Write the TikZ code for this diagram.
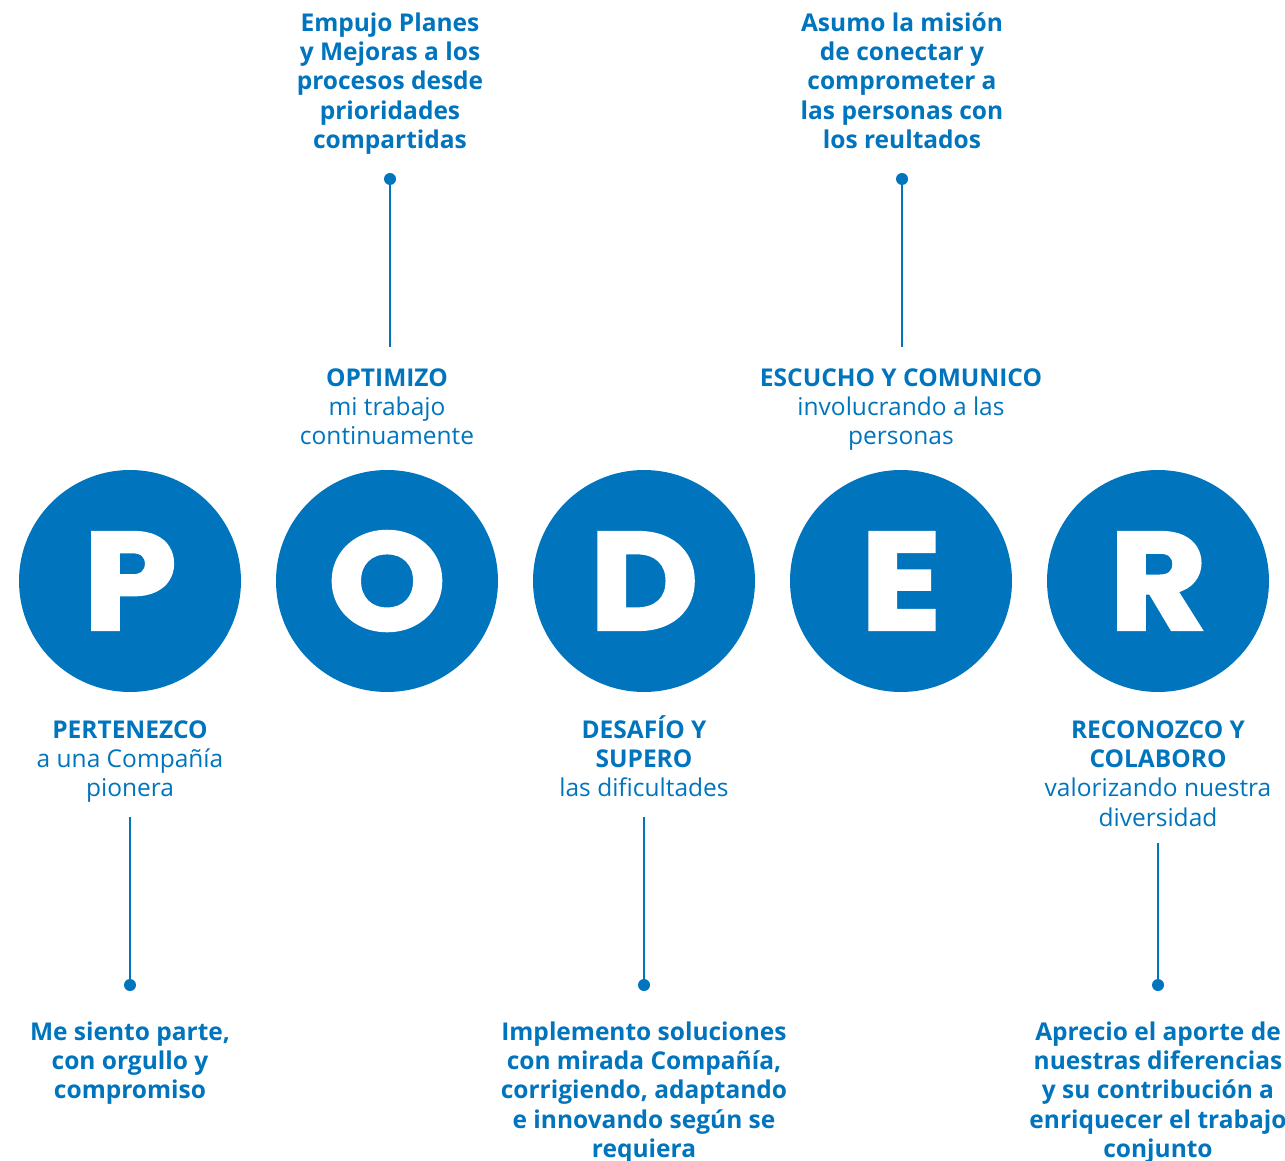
\documentclass[tikz,border=0pt]{standalone}
\usepackage{fontspec}
\setmainfont{Open Sans}
\newfontfamily\bigletter{Poppins}[BoldFeatures={FakeBold=2.4,FakeStretch=1.08}]
\definecolor{pblue}{RGB}{0,116,189}
\begin{document}
\begin{tikzpicture}[x=1pt,y=-1pt,
  circ/.style={circle,fill=pblue,minimum size=222pt,inner sep=0pt,text=white,
    font=\bigletter\bfseries\fontsize{138}{138}\selectfont},
  lbl/.style={anchor=north,inner sep=0pt,align=center,text=pblue,
    font=\fontsize{24.5}{29.3}\selectfont},
  lblb/.style={lbl,font=\bfseries\fontsize{24.5}{29.3}\selectfont},
  dotn/.style={circle,fill=pblue,minimum size=12pt,inner sep=0pt},
  conn/.style={draw=pblue,line width=2.6pt}]
\useasboundingbox (0,0) rectangle (1285,1161);
\def\st{\rule{0pt}{24pt}}
\def\lt#1{\raisebox{-3pt}{#1}}
% circles
\node[circ] (P) at (130,581) {\lt{P}};
\node[circ] (O) at (387,581) {\lt{O}};
\node[circ] (D) at (644,581) {\lt{D}};
\node[circ] (E) at (901,581) {\lt{E}};
\node[circ] (R) at (1158,581) {\lt{R}};
% top labels
\node[lblb] (Otop) at (390,7) {\st Empujo Planes\\y Mejoras a los\\procesos desde\\prioridades\\compartidas};
\node[lbl] (Olbl) at (387,362) {\st\textbf{OPTIMIZO}\\mi trabajo\\continuamente};
\node[lblb] (Etop) at (902,7) {\st Asumo la misión\\de conectar y\\comprometer a\\las personas con\\los reultados};
\node[lbl] (Elbl) at (901,362) {\st\textbf{ESCUCHO Y COMUNICO}\\involucrando a las\\personas};
% bottom labels
\node[lbl] (Plbl) at (130,714) {\st\textbf{PERTENEZCO}\\a una Compañía\\pionera};
\node[lblb] (Pbot) at (130,1016) {\st Me siento parte,\\con orgullo y\\compromiso};
\node[lbl] (Dlbl) at (644,714) {\st\textbf{DESAFÍO Y}\\\textbf{SUPERO}\\las dificultades};
\node[lblb] (Dbot) at (644,1016) {\st Implemento soluciones\\con mirada Compañía,\\corrigiendo, adaptando\\e innovando según se\\requiera};
\node[lbl] (Rlbl) at (1158,714) {\st\textbf{RECONOZCO Y}\\\textbf{COLABORO}\\valorizando nuestra\\diversidad};
\node[lblb] (Rbot) at (1158,1016) {\st Aprecio el aporte de\\nuestras diferencias\\y su contribución a\\enriquecer el trabajo\\conjunto};
% dots and connectors
\node[dotn] (Odot) at (390,179) {};
\coordinate (Oend) at (390,347);
\draw[conn] (Oend) -- (Odot.center);
\node[dotn] (Edot) at (902,179) {};
\coordinate (Eend) at (902,347);
\draw[conn] (Eend) -- (Edot.center);
\node[dotn] (Pdot) at (130,985) {};
\coordinate (Pend) at (130,817);
\draw[conn] (Pend) -- (Pdot.center);
\node[dotn] (Ddot) at (644,985) {};
\coordinate (Dend) at (644,817);
\draw[conn] (Dend) -- (Ddot.center);
\node[dotn] (Rdot) at (1158,985) {};
\coordinate (Rend) at (1158,843);
\draw[conn] (Rend) -- (Rdot.center);
\end{tikzpicture}
\end{document}
